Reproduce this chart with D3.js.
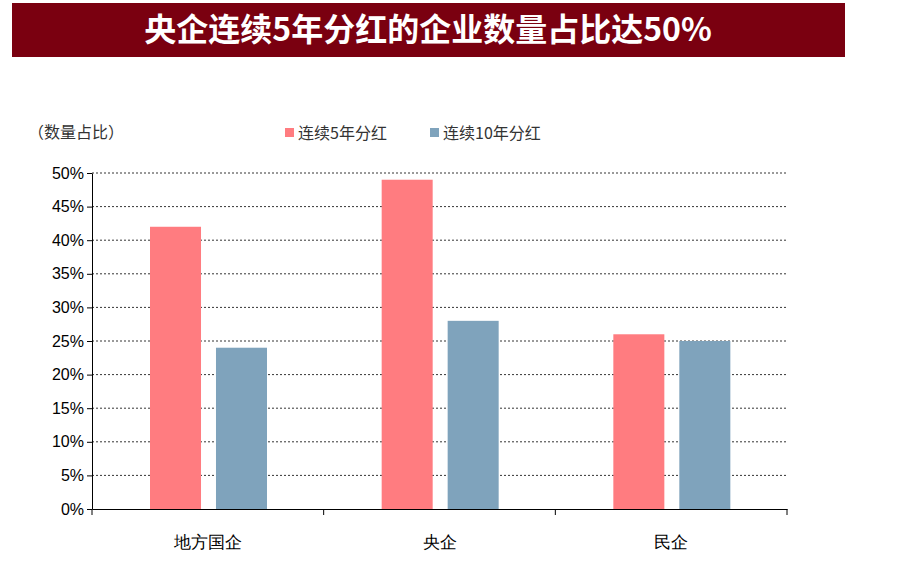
<!DOCTYPE html><html><head><meta charset="utf-8">
<script src="https://cdn.jsdelivr.net/npm/d3@7"></script>
<style>body{margin:0;background:#fff;font-family:"Noto Sans CJK SC",sans-serif}</style></head><body>
<svg id="c" width="903" height="561"></svg>
<script>
const categories=["地方国企","央企","民企"];
const seriesNames=["连续5年分红","连续10年分红"];
const five=[42,49,26];
const ten=[24,28,25];
const yTicks=[0,5,10,15,20,25,30,35,40,45,50];
const colors=["#ff7c80","#7fa3bc"];
const svg=d3.select("#c");
svg.append("rect").attr("x",12).attr("y",3).attr("width",833).attr("height",54).attr("fill","#7a0010");
svg.append("text").attr("x",428).attr("y",41).attr("text-anchor","middle").attr("fill","#fff").attr("font-size",32).attr("font-weight","bold").text("央企连续5年分红的企业数量占比达50%");
const L=92,R=787,T=173,B=509;
const x=d3.scaleBand().domain(categories).range([L,R]);
const x1=d3.scaleBand().domain([0,1]).range([58,175]).paddingInner(0.227);
const y=d3.scaleLinear().domain([0,50]).range([B,T]);
const g=svg.append("g");
yTicks.slice(1).forEach(t=>g.append("line").attr("x1",L).attr("x2",R).attr("y1",y(t)).attr("y2",y(t)).attr("stroke","#000").attr("stroke-width",0.8).attr("stroke-dasharray","2,2"));
const data=[five,ten];
data.forEach((s,si)=>g.selectAll(null).data(s).enter().append("rect")
 .attr("x",(d,i)=>x(categories[i])+x1(si)).attr("width",x1.bandwidth())
 .attr("y",d=>y(d)).attr("height",d=>B-y(d)).attr("fill",colors[si]));
const ya=svg.append("g").attr("transform",`translate(${L},0)`).call(d3.axisLeft(y).tickValues(yTicks).tickFormat(d=>d+"%").tickSize(5).tickSizeOuter(0));
ya.selectAll("text").attr("font-size",16).attr("fill","#000").attr("font-family","Liberation Sans, Arial");
const xa=svg.append("g").attr("transform",`translate(0,${B})`).call(d3.axisBottom(x).tickSize(0).tickSizeOuter(0));
xa.selectAll("text").attr("font-size",17).attr("fill","#000").attr("dy","2.1em");
[L,...categories.map(c=>x(c)+x.bandwidth())].forEach(v=>svg.append("line").attr("x1",v).attr("x2",v).attr("y1",B).attr("y2",B+6).attr("stroke","#000"));
svg.selectAll(".domain").attr("stroke","#000");
svg.append("text").attr("x",28).attr("y",138).attr("font-size",16).attr("fill","#333").text("（数量占比）");
const lx=[285,430];
seriesNames.forEach((n,i)=>{svg.append("rect").attr("x",lx[i]).attr("y",128).attr("width",9).attr("height",9).attr("fill",colors[i]);
svg.append("text").attr("x",lx[i]+13).attr("y",139).attr("font-size",16).attr("fill","#333").text(n);});
</script></body></html>
